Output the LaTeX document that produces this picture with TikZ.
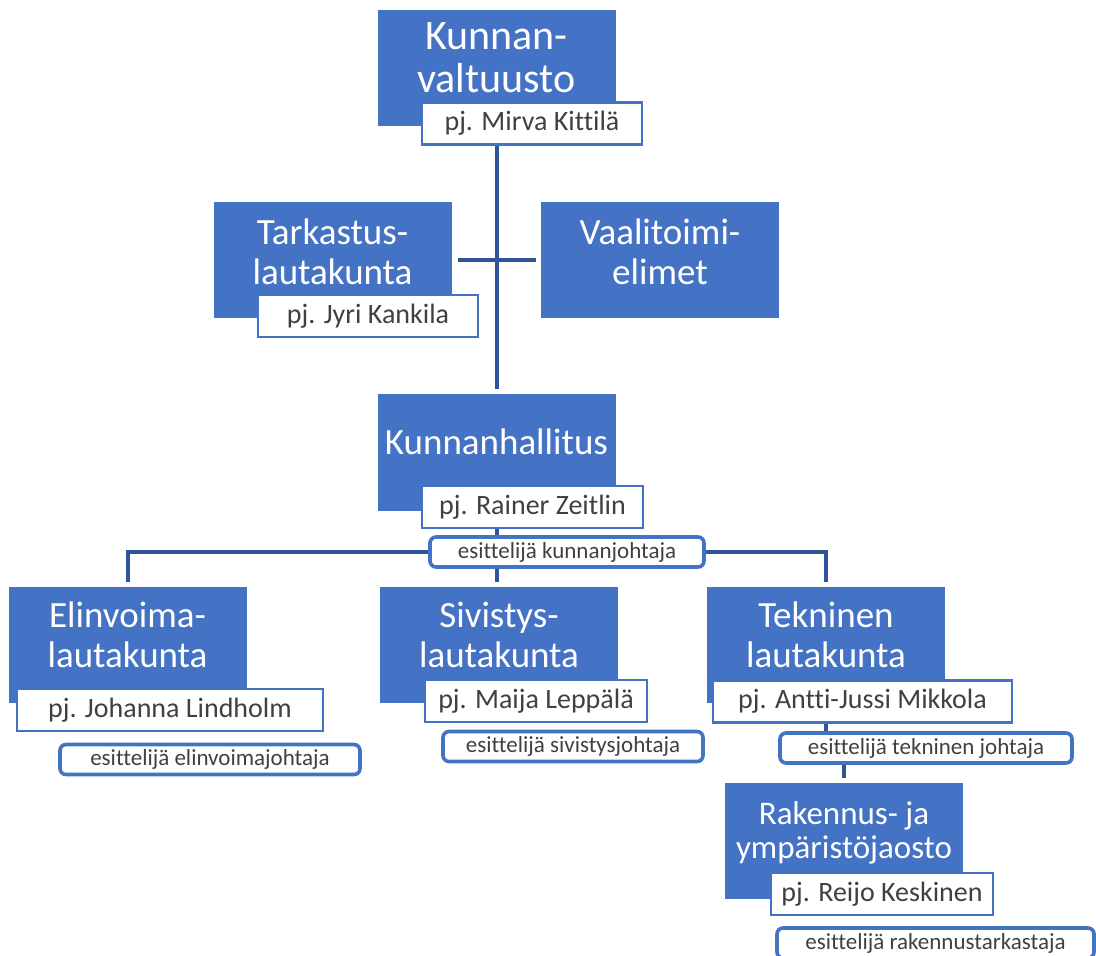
\documentclass[tikz,border=0pt]{standalone}
\usepackage{fontspec}
\setmainfont{Carlito}[Ligatures=NoCommon]
\usetikzlibrary{positioning}
\definecolor{boxblue}{RGB}{68,114,196}
\definecolor{lineblue}{RGB}{47,85,151}
\definecolor{nametext}{RGB}{64,64,64}
\tikzset{
organ/.style={fill=boxblue, text=white, align=center, minimum width=119pt, minimum height=58pt, inner sep=0pt, text depth=10pt, font=\fontsize{18.5}{20}\selectfont}, % the blue boxes
chair/.style={draw=boxblue, line width=1.4pt, fill=white, text=nametext, minimum height=21pt, inner sep=0pt, font=\fontsize{14}{16}\selectfont}, % chairperson under each box
presenter/.style={draw=boxblue, line width=1.8pt, rounded corners=3pt, fill=white, text=nametext, minimum height=15pt, inner sep=0pt, font=\fontsize{11.5}{13}\selectfont}, % the rounded presenter boxes
link/.style={draw=lineblue, line width=2pt}, % connectors
}

\begin{document}
\begin{tikzpicture}[x=0.5pt, y=-0.5pt]
\useasboundingbox (0,0) rectangle (1096,956);
\node[organ, text depth=10.5pt, font=\fontsize{21}{21.5}\selectfont] (kv) at (496.5,68.5) {Kunnan-\\valtuusto};
\node[organ, text depth=8.5pt] (tark) at (332.5,260.5) {Tarkastus-\\lautakunta};
\node[organ, text depth=8.5pt] (vaali) at (660,260.5) {Vaalitoimi-\\elimet};
\node[organ, text depth=10.5pt] (kh) at (496.5,452.5) {Kunnanhallitus};
\node[organ] (elin) at (127.5,645) {Elinvoima-\\lautakunta};
\node[organ] (sivi) at (499,645) {Sivistys-\\lautakunta};
\node[organ] (tekn) at (826,645) {Tekninen\\lautakunta};
\node[organ, text depth=11pt, font=\fontsize{16.5}{17}\selectfont] (rak) at (844,841) {Rakennus- ja\\ympäristöjaosto};
\node[chair, minimum width=110pt] (kvpj) at (532,123.5) {pj. Mirva Kittilä};
\node[chair, minimum width=110pt] (tarkpj) at (368,316) {pj. Jyri Kankila};
\node[chair, minimum width=110.5pt] (khpj) at (532.5,507) {pj. Rainer Zeitlin};
\node[chair, minimum width=153pt] (elinpj) at (170,710) {pj. Johanna Lindholm};
\node[chair, minimum width=111pt] (sivipj) at (536,701) {pj. Maija Leppälä};
\node[chair, minimum width=149.5pt] (teknpj) at (862.5,701.5) {pj. Antti-Jussi Mikkola};
\node[chair, minimum width=111pt] (rakpj) at (882,894) {pj. Reijo Keskinen};
\node[presenter, minimum width=137pt] (khesit) at (567,552) {esittelijä kunnanjohtaja};
\node[presenter, minimum width=150pt] (elinesit) at (210,759.5) {esittelijä elinvoimajohtaja};
\node[presenter, minimum width=130pt] (siviesit) at (573,746.5) {esittelijä sivistysjohtaja};
\node[presenter, minimum width=146pt] (teknesit) at (926,748) {esittelijä tekninen johtaja};
\node[presenter, minimum width=158.5pt] (rakesit) at (935.5,943) {esittelijä rakennustarkastaja};
\draw[link, shorten >=2.5pt] (kvpj.south -| kv.south) -- (kh.north);
\draw[link, shorten <=3pt, shorten >=2.5pt] (tark.east) -- (vaali.west);
\draw[link] (khpj.south -| kh.south) -- (khesit.north -| kh.south);
\draw[link, shorten >=2.5pt] (khesit.south -| kh.south) -- (sivi.north -| kh.south);
\draw[link, shorten <=2.5pt] (elin.north) |- (khesit.west);
\draw[link, shorten <=2.5pt] (tekn.north) |- (khesit.east);
\draw[link] (teknpj.south -| tekn.south) -- (teknesit.north -| tekn.south);
\draw[link, shorten >=2.5pt] (teknesit.south -| rak.north) -- (rak.north);
\end{tikzpicture}
\end{document}
